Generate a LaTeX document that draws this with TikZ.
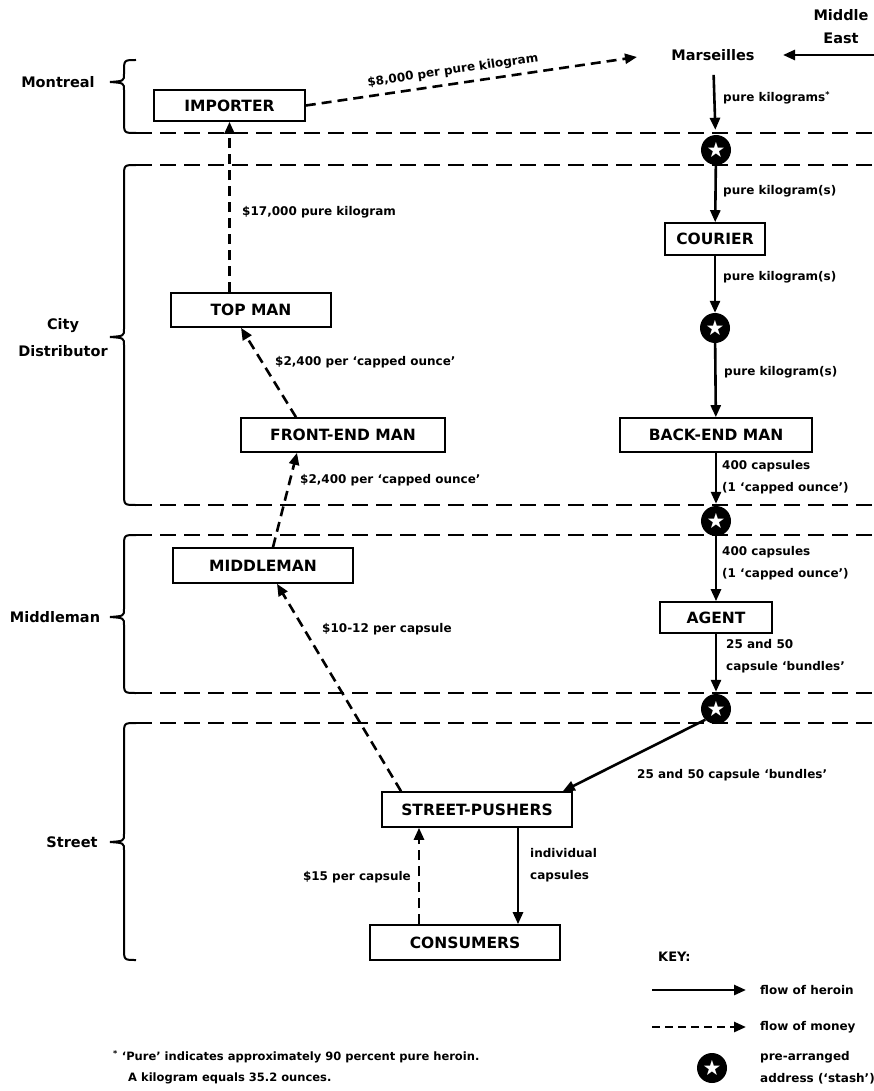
\documentclass[tikz,border=0pt]{standalone}
\usepackage{fontspec}
\setmainfont{DejaVu Sans}
\usetikzlibrary{arrows.meta}
\newcommand{\mybrace}[3]{%
  \draw[brace] (136,#1) .. controls (124,#1) .. (124,#1+12) -- (124,#2-8)
    .. controls (124,#2-1) .. (110,#2) .. controls (124,#2+1) .. (124,#2+8)
    -- (124,#3-12) .. controls (124,#3) .. (136,#3);}
\begin{document}
\begin{tikzpicture}[x=1pt,y=-1pt,
  box/.style={draw, line width=1.6pt, font=\bfseries\fontsize{15.5}{16}\selectfont, inner sep=0pt, minimum height=33pt},
  lbl/.style={font=\bfseries\fontsize{12}{22}\selectfont, inner sep=0pt, align=left, anchor=west},
  region/.style={font=\bfseries\fontsize{14.5}{27}\selectfont, align=center, inner sep=0pt},
  heroin/.style={line width=2.6pt, -{Triangle[length=12pt,width=10pt]}},
  money/.style={line width=2.6pt, dash pattern=on 10pt off 6pt, -{Triangle[length=12pt,width=10pt]}},
  divider/.style={line width=1.8pt, dash pattern=on 16pt off 8pt},
  brace/.style={line width=2pt},
  stash/.style={circle, fill=black, minimum size=30pt, inner sep=0pt, text=white, font=\fontsize{21}{21}\selectfont}
]
\useasboundingbox (0,0) rectangle (874,1091);

% region dividers
\foreach \yy in {133,165,505,535,693,723} \draw[divider] (136,\yy) -- (874,\yy);
\mybrace{60}{82}{133}
\mybrace{165}{337}{505}
\mybrace{535}{617}{693}
\mybrace{723}{842}{960}

% region labels
\node[region] (rMon) at (58,82) {Montreal};
\node[region] (rCity) at (63,338) {City\\Distributor};
\node[region] (rMid) at (55,617) {Middleman};
\node[region] (rStr) at (72,842) {Street};

% boxes
\node[box, minimum width=151pt, minimum height=31pt] (imp) at (229.5,105.5) {IMPORTER};
\node[box, minimum width=160pt, minimum height=34pt] (top) at (251,310) {TOP MAN};
\node[box, minimum width=204pt, minimum height=34pt] (front) at (343,435) {FRONT-END MAN};
\node[box, minimum width=180pt, minimum height=35pt] (mid) at (263,565.5) {MIDDLEMAN};
\node[box, minimum width=190pt, minimum height=35pt] (sp) at (477,809.5) {STREET-PUSHERS};
\node[box, minimum width=190pt, minimum height=35pt] (cons) at (465,942.5) {CONSUMERS};
\node[box, minimum width=100pt, minimum height=32pt] (cour) at (715,239) {COURIER};
\node[box, minimum width=192pt, minimum height=34pt] (back) at (716,435) {BACK-END MAN};
\node[box, minimum width=112pt, minimum height=31pt] (agent) at (716,617.5) {AGENT};

% places
\node[region] (mars) at (713,55) {Marseilles};
\node[region, font=\bfseries\fontsize{14.5}{23}\selectfont] (me) at (841,27) {Middle\\East};
\coordinate (meR) at (874,55);
\coordinate (meTip) at (783,55);
\coordinate (mtip) at (637,57);

% stashes
\node[stash] (s1) at (716,150) {★};
\node[stash] (s2) at (715,328) {★};
\node[stash] (s3) at (716,521) {★};
\node[stash] (s4) at (716,709) {★};

% heroin flow
\draw[heroin] (meR) -- (meTip);
\draw[heroin, shorten <=14pt, shorten >=5pt] (mars) -- (s1);
\node[lbl] (l1) at (723,98) {pure kilograms\textsuperscript{*}};
\draw[heroin] (s1) -- (cour);
\node[lbl] (l2) at (723,191) {pure kilogram(s)};
\draw[heroin] (cour) -- (s2);
\node[lbl] (l3) at (723,277) {pure kilogram(s)};
\draw[heroin] (s2) -- (back);
\node[lbl] (l4) at (724,372) {pure kilogram(s)};
\draw[heroin, shorten >=2pt] (back) -- (s3);
\node[lbl] (l5) at (722,477) {400 capsules\\(1 `capped ounce')};
\draw[heroin] (s3) -- (agent);
\node[lbl] (l6) at (722,563) {400 capsules\\(1 `capped ounce')};
\draw[heroin, shorten >=2pt] (agent) -- (s4);
\node[lbl] (l7) at (726,656) {25 and 50\\capsule `bundles'};
\draw[heroin] (s4.south west) -- ([xshift=-10pt]sp.north east);
\node[lbl] (l8) at (637,775) {25 and 50 capsule `bundles'};
\draw[heroin] ([xshift=41pt]sp.south) -- ([xshift=53pt]cons.north);
\node[lbl] (l9) at (530,865) {individual\\capsules};

% money flow
\draw[money] (imp.east) -- node[pos=0.45, sloped, above=6pt, font=\bfseries\fontsize{12}{14}\selectfont, inner sep=0pt] (l10) {\$8,000 per pure kilogram} (mtip);
\draw[money] ([xshift=-21.5pt]top.north) -- (imp.south);
\node[lbl] (l11) at (242,212) {\$17,000 pure kilogram};
\draw[money] ([xshift=-47pt]front.north) -- ([xshift=-10pt]top.south);
\node[lbl] (l12) at (275,362) {\$2,400 per `capped ounce'};
\draw[money] ([xshift=10pt]mid.north) -- ([xshift=-46pt]front.south);
\node[lbl] (l13) at (300,480) {\$2,400 per `capped ounce'};
\draw[money] ([xshift=-76pt]sp.north) -- ([xshift=14pt]mid.south);
\node[lbl] (l14) at (322,629) {\$10-12 per capsule};
\draw[money] ([xshift=-46pt]cons.north) -- ([xshift=-58pt]sp.south);
\node[lbl, anchor=east] (l15) at (411,877) {\$15 per capsule};

% key
\node[lbl, font=\bfseries\fontsize{13}{14}\selectfont] (key) at (658,957) {KEY:};
\coordinate (k1a) at (652,990); \coordinate (k1b) at (746,990);
\coordinate (k2a) at (652,1027); \coordinate (k2b) at (746,1027);
\draw[heroin] (k1a) -- (k1b);
\draw[money, dash pattern=on 8pt off 5pt] (k2a) -- (k2b);
\node[lbl] (kt1) at (760,990) {flow of heroin};
\node[lbl] (kt2) at (760,1027) {flow of money};
\node[stash] (ks) at (712,1068) {★};
\node[lbl] (kt3) at (760,1068) {pre-arranged\\address (`stash')};

% footnote
\node[lbl, font=\bfseries\fontsize{11.5}{14}\selectfont] (fn1) at (113,1057) {\textsuperscript{*} `Pure' indicates approximately 90 percent pure heroin.};
\node[lbl, font=\bfseries\fontsize{11.5}{14}\selectfont] (fn2) at (128,1078) {A kilogram equals 35.2 ounces.};
\end{tikzpicture}
\end{document}
